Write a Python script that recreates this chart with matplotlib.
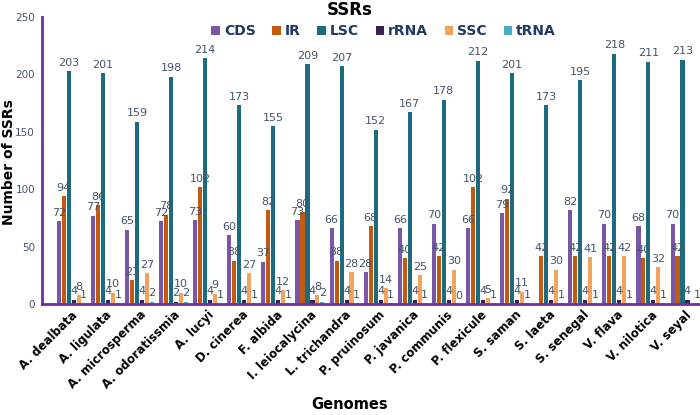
import numpy as np
import matplotlib.pyplot as plt

genomes = ["A. dealbata", "A. ligulata", "A. microsperma", "A. odoratissmia", "A. lucyi",
           "D. cinerea", "F. albida", "I. leiocalycina", "L. trichandra", "P. pruinosum",
           "P. javanica", "P. communis", "P. flexicule", "S. saman", "S. laeta",
           "S. senegal", "V. flava", "V. nilotica", "V. seyal"]

cds  = [72, 77, 65, 72, 73, 60, 37, 73, 66, 28, 66, 70, 66, 79, np.nan, 82, 70, 68, 70]
ir   = [94, 86, 21, 78, 102, 38, 82, 80, 38, 68, 40, 42, 102, 92, 42, 42, 42, 40, 42]
lsc  = [203, 201, 159, 198, 214, 173, 155, 209, 207, 152, 167, 178, 212, 201, 173, 195, 218, 211, 213]
rrna = [4, 4, 4, 2, 4, 4, 4, 4, 4, 4, 4, 4, 4, 4, 4, 4, 4, 4, 4]
ssc  = [8, 10, 27, 10, 9, 27, 12, 8, 28, 14, 25, 30, 5, 11, 30, 41, 42, 32, np.nan]
trna = [1, 1, 2, 2, 1, 1, 1, 2, 1, 1, 1, 0, 1, 1, 1, 1, 1, 1, 1]

series = [("CDS", cds, "#7b56a6"), ("IR", ir, "#c45911"), ("LSC", lsc, "#1d6b7e"),
          ("rRNA", rrna, "#3a2152"), ("SSC", ssc, "#f3a35a"), ("tRNA", trna, "#4bacc6")]

label_col = "#44546a"
axis_col = "#7030a0"

fig = plt.figure(figsize=(7, 4.15), dpi=100)
ax = fig.add_axes([0.06, 0.267, 0.94, 0.692])

x = np.arange(len(genomes))
step = 0.146
width = 0.12
for i, (name, vals, col) in enumerate(series):
    pos = x + (i - 2.5) * step
    v = np.array(vals, dtype=float)
    ax.bar(pos, np.nan_to_num(v), width, color=col, label=name)
    for px, val in zip(pos, v):
        if not np.isnan(val):
            ax.text(px, val + 3, f"{int(val)}", ha="center", va="bottom",
                    fontsize=8, color=label_col)

ax.set_xlim(-0.86, 18.44)
ax.set_ylim(0, 250)
ax.set_yticks(range(0, 251, 50))
ax.tick_params(axis="y", colors=label_col, labelsize=7.5, length=0, pad=5)
ax.tick_params(axis="x", length=0, pad=3)
ax.set_xticks(x)
ax.set_xticklabels(genomes, rotation=45, ha="right", rotation_mode="anchor",
                   fontsize=8.5, fontweight="bold", color="black")

for s in ["top", "right"]:
    ax.spines[s].set_visible(False)
for s in ["left", "bottom"]:
    ax.spines[s].set_color(axis_col)
    ax.spines[s].set_linewidth(2)

fig.text(0.013, 0.61, "Number of SSRs", rotation=90, ha="center", va="center",
         fontsize=10, fontweight="bold")
fig.text(0.5, 0.025, "Genomes", ha="center", va="center", fontsize=10.5, fontweight="bold")

fig.text(0.5, 0.975, "SSRs", ha="center", va="center", fontsize=12, fontweight="bold")
leg = fig.legend(loc="center", bbox_to_anchor=(0.548, 0.925), ncol=6, frameon=False,
                 handlelength=0.6, handleheight=0.6, handletextpad=0.3, columnspacing=1.2,
                 prop={"weight": "bold", "size": 10})
for t in leg.get_texts():
    t.set_color("#1f3864")

fig.savefig("out.png", dpi=100)
